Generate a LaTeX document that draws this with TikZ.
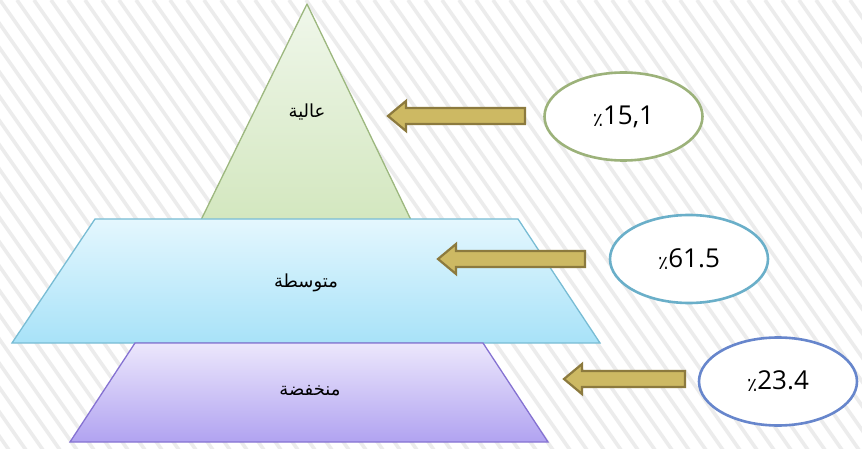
\documentclass[tikz,border=0pt]{standalone}
\usepackage{fontspec}
\usetikzlibrary{shapes.geometric}
\TeXXeTstate=1
\newfontfamily\arabicfont[Script=Arabic]{DejaVu Sans}
\newfontfamily\numfont{Open Sans}

\definecolor{stripe}{HTML}{ECECEC}
\definecolor{topfillA}{HTML}{F0F7EB}
\definecolor{topfillB}{HTML}{D3E7BF}
\definecolor{topline}{HTML}{9DB87F}
\definecolor{midfillA}{HTML}{E4F7FE}
\definecolor{midfillB}{HTML}{A8E2F8}
\definecolor{midline}{HTML}{78BCD4}
\definecolor{lowfillA}{HTML}{ECE7FC}
\definecolor{lowfillB}{HTML}{B1A3F1}
\definecolor{lowline}{HTML}{8572D2}
\definecolor{arrowfill}{HTML}{CDB963}
\definecolor{arrowline}{HTML}{8C7A3E}
\definecolor{ringA}{HTML}{9CB27A}
\definecolor{ringB}{HTML}{6AAFC9}
\definecolor{ringC}{HTML}{6786CC}

\tikzset{
  levellabel/.style={font=\arabicfont\fontsize{18}{21}\selectfont, inner sep=0pt},
  pctbubble/.style={ellipse, draw=#1, line width=2.6pt, fill=white,
    minimum width=158pt, minimum height=88pt, inner sep=0pt},
  pcttext/.style={font=\numfont\fontsize{26}{30}\selectfont},
  blockarrow/.style={fill=arrowfill, draw=arrowline, line width=2.2pt, line join=miter},
}
\newcommand{\pct}{{\arabicfont\fontsize{19}{22}\selectfont\raisebox{-2pt}{٪}}}

\begin{document}
\begin{tikzpicture}[x=1pt, y=-1pt]
  % canvas
  \path[use as bounding box, fill=white] (0,0) rectangle (862,449);
  \begin{scope}
    \clip (0,0) rectangle (862,449);
    \foreach \i in {-20,...,52}
      \draw[stripe, line width=3.6pt] (\i*17,0) -- ++(0.7*460,460);
  \end{scope}

  % pyramid tiers
  \fill[top color=topfillA, bottom color=topfillB] (307,4) -- (411,220) -- (201,220) -- cycle;
  \draw[topline, line width=1.3pt, line join=round] (201,220) -- (307,4) -- (411,220);
  \path[top color=midfillA, bottom color=midfillB, draw=midline, line width=1.3pt]
    (95,219) -- (518,219) -- (600,343) -- (12,343) -- cycle;
  \path[top color=lowfillA, bottom color=lowfillB, draw=lowline, line width=1.3pt]
    (135,343) -- (483,343) -- (548,442) -- (70,442) -- cycle;

  \node[levellabel] (high) at (307,112) {\beginR عالية\endR};
  \node[levellabel] (mid) at (306,283) {\beginR متوسطة\endR};
  \node[levellabel] (low) at (310,391) {\beginR منخفضة\endR};

  % share bubbles
  \node[pctbubble=ringA] (pa) at (623.5,116.5) {};
  \node[pcttext] at (pa) {\pct15,1};
  \node[pctbubble=ringB] (pb) at (689,259) {};
  \node[pcttext] at (pb) {\pct61.5};
  \node[pctbubble=ringC] (pc) at (778,381.5) {};
  \node[pcttext] at (pc) {\pct23.4};

  % block arrows pointing to the tiers: tip x, tail x, y
  \foreach \tip/\tail/\yy in {388/525/116, 438/585/259, 564/685/379}
    \path[blockarrow] (\tip,\yy) -- ++(18,-15) -- ++(0,7) -- (\tail,\yy-8)
      -- (\tail,\yy+8) -- (\tip+18,\yy+8) -- ++(0,7) -- cycle;
\end{tikzpicture}
\end{document}
